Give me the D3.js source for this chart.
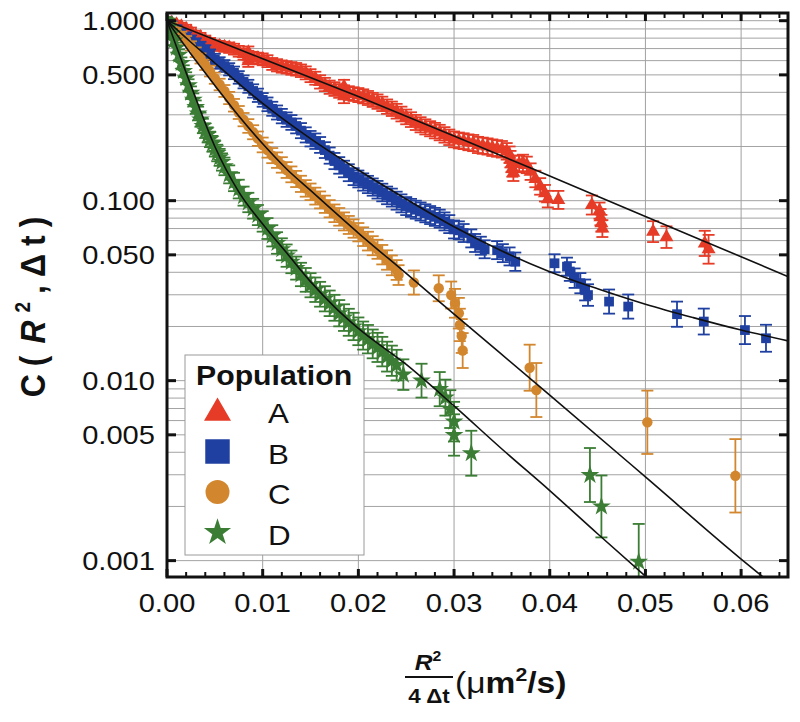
<!DOCTYPE html>
<html><head><meta charset="utf-8">
<script src="https://cdn.jsdelivr.net/npm/d3@7/dist/d3.min.js"></script>
<style>body{margin:0;background:#fff}text{font-family:"Liberation Sans",Arial,Helvetica,sans-serif}</style>
</head><body><svg id="chart" width="800" height="722"></svg>
<script>
// ---------- data ----------
const populations = ["A", "B", "C", "D"];
const colors = ["#e63b26", "#1f40a0", "#d2872f", "#3b7d34"];
const xTicks = [0, 0.01, 0.02, 0.03, 0.04, 0.05, 0.06];
const xTickLabels = ["0.00", "0.01", "0.02", "0.03", "0.04", "0.05", "0.06"];
const yTicks = [1, 0.5, 0.1, 0.05, 0.01, 0.005, 0.001];
const yTickLabels = ["1.000", "0.500", "0.100", "0.050", "0.010", "0.005", "0.001"];

// [R^2/(4Δt), C, log10 half-width of error bar]
const dataA = [[0,1,0.015],[0.0005,0.977,0.018],[0.001,0.955,0.02],[0.0015,0.929,0.02],[0.002,0.902,0.022],[0.0025,0.871,0.022],[0.003,0.832,0.024],[0.0035,0.81,0.024],[0.004,0.78,0.025],[0.0045,0.755,0.026],[0.005,0.733,0.027],[0.0055,0.724,0.028],[0.006,0.716,0.028],[0.0065,0.708,0.029],[0.007,0.695,0.03],[0.0075,0.676,0.03],[0.008,0.653,0.031],[0.0085,0.668,0.032],[0.0085,0.631,0.032],[0.0085,0.596,0.032],[0.009,0.624,0.032],[0.0095,0.617,0.032],[0.01,0.61,0.033],[0.0105,0.596,0.033],[0.011,0.575,0.033],[0.0115,0.565,0.034],[0.012,0.556,0.034],[0.0125,0.55,0.034],[0.013,0.543,0.035],[0.0135,0.537,0.035],[0.014,0.527,0.035],[0.0145,0.513,0.036],[0.015,0.495,0.036],[0.0155,0.479,0.036],[0.016,0.457,0.037],[0.0165,0.442,0.037],[0.017,0.427,0.037],[0.0175,0.417,0.038],[0.018,0.407,0.038],[0.0185,0.43,0.038],[0.0185,0.401,0.038],[0.0185,0.38,0.038],[0.019,0.396,0.038],[0.0195,0.391,0.038],[0.02,0.386,0.039],[0.0205,0.38,0.039],[0.021,0.372,0.039],[0.0215,0.363,0.039],[0.022,0.355,0.04],[0.0225,0.345,0.04],[0.023,0.333,0.04],[0.0235,0.324,0.04],[0.024,0.314,0.041],[0.0245,0.303,0.041],[0.025,0.292,0.041],[0.0255,0.282,0.041],[0.026,0.272,0.042],[0.0265,0.264,0.042],[0.027,0.257,0.042],[0.0275,0.251,0.042],[0.028,0.245,0.043],[0.0285,0.239,0.043],[0.029,0.232,0.043],[0.0295,0.225,0.043],[0.03,0.219,0.044],[0.0305,0.216,0.044],[0.031,0.214,0.044],[0.0315,0.211,0.044],[0.032,0.209,0.045],[0.0325,0.204,0.045],[0.033,0.202,0.045],[0.0335,0.2,0.045],[0.034,0.197,0.046],[0.0345,0.195,0.046],[0.035,0.193,0.046],[0.0355,0.188,0.046],[0.0358,0.18,0.046],[0.0359,0.17,0.046],[0.036,0.16,0.046],[0.0361,0.151,0.046],[0.0362,0.143,0.046],[0.0368,0.16,0.046],[0.0372,0.162,0.046],[0.0376,0.158,0.046],[0.038,0.145,0.046],[0.0385,0.132,0.046],[0.039,0.12,0.046],[0.0395,0.11,0.046],[0.0398,0.102,0.046],[0.0409,0.101,0.05],[0.0444,0.0946,0.053],[0.0452,0.088,0.045],[0.0453,0.081,0.045],[0.0454,0.075,0.046],[0.0455,0.07,0.047],[0.0508,0.0673,0.058],[0.0522,0.0627,0.06],[0.0562,0.0579,0.07],[0.0566,0.0537,0.08]];

const dataB = [[0,1,0.018],[0.0005,0.944,0.02],[0.001,0.895,0.022],[0.0015,0.851,0.024],[0.002,0.813,0.025],[0.0025,0.78,0.026],[0.003,0.75,0.027],[0.0035,0.716,0.028],[0.004,0.684,0.029],[0.0045,0.646,0.03],[0.005,0.61,0.031],[0.0055,0.582,0.032],[0.006,0.56,0.033],[0.0065,0.537,0.034],[0.007,0.513,0.035],[0.0075,0.484,0.035],[0.008,0.457,0.036],[0.0085,0.432,0.036],[0.009,0.407,0.037],[0.0095,0.385,0.037],[0.01,0.363,0.038],[0.0105,0.343,0.038],[0.011,0.324,0.039],[0.0115,0.309,0.039],[0.012,0.295,0.04],[0.0125,0.282,0.04],[0.013,0.272,0.041],[0.0135,0.26,0.041],[0.014,0.245,0.042],[0.0145,0.232,0.042],[0.015,0.221,0.043],[0.0155,0.214,0.043],[0.016,0.204,0.044],[0.0165,0.191,0.044],[0.017,0.178,0.045],[0.0175,0.166,0.045],[0.018,0.157,0.046],[0.0185,0.15,0.046],[0.019,0.143,0.047],[0.0195,0.136,0.047],[0.02,0.132,0.047],[0.0205,0.127,0.048],[0.021,0.123,0.048],[0.0215,0.119,0.048],[0.022,0.115,0.049],[0.0225,0.111,0.049],[0.023,0.107,0.049],[0.0235,0.104,0.05],[0.024,0.1,0.05],[0.0245,0.0966,0.05],[0.025,0.0933,0.05],[0.0255,0.0912,0.05],[0.026,0.0891,0.05],[0.0265,0.0871,0.05],[0.027,0.0851,0.05],[0.0275,0.0832,0.05],[0.028,0.0813,0.05],[0.0285,0.0794,0.05],[0.029,0.0767,0.05],[0.0295,0.0741,0.05],[0.03,0.0692,0.05],[0.0305,0.0684,0.05],[0.031,0.0661,0.05],[0.0318,0.0617,0.05],[0.0322,0.0582,0.05],[0.0328,0.0562,0.05],[0.0332,0.0537,0.05],[0.0345,0.0531,0.05],[0.0351,0.0511,0.05],[0.0358,0.049,0.05],[0.0364,0.0458,0.051],[0.0405,0.0449,0.05],[0.0418,0.043,0.05],[0.0421,0.0404,0.052],[0.0426,0.0371,0.054],[0.0432,0.0348,0.056],[0.0437,0.0319,0.058],[0.044,0.0299,0.06],[0.0462,0.0275,0.067],[0.0482,0.0258,0.067],[0.0533,0.0234,0.07],[0.0561,0.0213,0.072],[0.0604,0.0191,0.078],[0.0626,0.0172,0.075]];

const dataC = [[0,1,0.018],[0.0005,0.933,0.02],[0.001,0.871,0.022],[0.0015,0.822,0.024],[0.002,0.776,0.025],[0.0025,0.724,0.026],[0.003,0.668,0.027],[0.0035,0.617,0.028],[0.004,0.569,0.029],[0.0045,0.525,0.03],[0.005,0.479,0.031],[0.0055,0.442,0.032],[0.006,0.407,0.033],[0.0065,0.372,0.034],[0.007,0.339,0.035],[0.0075,0.309,0.036],[0.008,0.282,0.037],[0.0085,0.26,0.038],[0.009,0.24,0.039],[0.0095,0.221,0.04],[0.01,0.204,0.041],[0.0105,0.191,0.042],[0.011,0.178,0.042],[0.0115,0.168,0.043],[0.012,0.158,0.043],[0.0125,0.148,0.044],[0.013,0.14,0.044],[0.0135,0.132,0.045],[0.014,0.124,0.045],[0.0145,0.117,0.046],[0.015,0.112,0.046],[0.0155,0.106,0.047],[0.016,0.101,0.047],[0.0165,0.0955,0.048],[0.017,0.0902,0.048],[0.0175,0.0851,0.049],[0.018,0.0813,0.049],[0.0185,0.0767,0.05],[0.019,0.0733,0.05],[0.0195,0.07,0.051],[0.02,0.0668,0.051],[0.0205,0.0631,0.052],[0.021,0.0596,0.052],[0.0215,0.0562,0.053],[0.022,0.0537,0.053],[0.0225,0.0501,0.054],[0.023,0.0468,0.054],[0.0235,0.0437,0.055],[0.024,0.0412,0.055],[0.0242,0.0386,0.055],[0.0258,0.0351,0.067],[0.0284,0.0326,0.072],[0.0297,0.0299,0.075],[0.0301,0.0269,0.08],[0.0305,0.0237,0.085],[0.0306,0.0204,0.09],[0.0308,0.0177,0.094],[0.0309,0.0147,0.097],[0.0379,0.0118,0.128],[0.0386,0.00887,0.15],[0.0502,0.00587,0.176],[0.0594,0.00296,0.204]];

const dataD = [[0,1,0.02],[0.00025,0.923,0.022],[0.0005,0.851,0.024],[0.00075,0.776,0.026],[0.001,0.708,0.028],[0.00125,0.646,0.03],[0.0015,0.582,0.031],[0.00175,0.525,0.032],[0.002,0.479,0.033],[0.00225,0.437,0.034],[0.0025,0.398,0.035],[0.00275,0.363,0.036],[0.003,0.331,0.037],[0.00325,0.305,0.038],[0.0035,0.282,0.039],[0.00375,0.26,0.04],[0.004,0.245,0.041],[0.00425,0.232,0.042],[0.0045,0.219,0.043],[0.00475,0.207,0.044],[0.005,0.195,0.045],[0.00525,0.184,0.046],[0.0055,0.174,0.047],[0.00575,0.164,0.048],[0.006,0.155,0.049],[0.0065,0.14,0.05],[0.007,0.127,0.051],[0.0075,0.116,0.052],[0.008,0.106,0.053],[0.0085,0.0977,0.054],[0.009,0.0902,0.055],[0.0095,0.0832,0.056],[0.01,0.0767,0.057],[0.0105,0.07,0.058],[0.011,0.0638,0.059],[0.0115,0.0582,0.06],[0.012,0.0537,0.061],[0.0125,0.0495,0.062],[0.013,0.0457,0.063],[0.0135,0.0422,0.064],[0.014,0.0389,0.065],[0.0145,0.0363,0.066],[0.015,0.0339,0.067],[0.0155,0.032,0.068],[0.016,0.0302,0.069],[0.0165,0.0285,0.07],[0.017,0.0269,0.071],[0.0175,0.0254,0.072],[0.018,0.0237,0.073],[0.0185,0.0224,0.074],[0.019,0.0211,0.075],[0.0195,0.02,0.076],[0.02,0.0188,0.077],[0.0205,0.0178,0.078],[0.021,0.017,0.079],[0.0215,0.016,0.08],[0.022,0.0153,0.081],[0.0225,0.0145,0.082],[0.023,0.0136,0.083],[0.0235,0.0129,0.084],[0.024,0.0122,0.085],[0.0247,0.0108,0.085],[0.0266,0.01,0.094],[0.0285,0.00897,0.095],[0.0291,0.00805,0.1],[0.0296,0.00695,0.105],[0.03,0.00592,0.11],[0.03,0.00499,0.115],[0.0318,0.00395,0.125],[0.0442,0.00299,0.15],[0.0454,0.002,0.172],[0.0493,0.000986,0.21]];

// fitted curves [x, C]
const fitA = [[0,1],[0.01,0.615],[0.02,0.379],[0.03,0.229],[0.04,0.137],[0.05,0.0817],[0.06,0.0488],[0.065,0.0377]];
const fitB = [[0,1],[0.0025,0.759],[0.005,0.582],[0.0075,0.447],[0.01,0.347],[0.015,0.221],[0.02,0.148],[0.025,0.102],[0.03,0.0716],[0.035,0.0525],[0.04,0.0403],[0.045,0.0324],[0.05,0.0266],[0.055,0.0224],[0.06,0.0191],[0.065,0.0166]];
const fitC = [[0,1],[0.0025,0.653],[0.005,0.437],[0.0075,0.295],[0.01,0.207],[0.0125,0.150],[0.015,0.114],[0.02,0.0661],[0.025,0.0394],[0.03,0.0234],[0.04,0.00832],[0.05,0.00292],[0.06,0.00102],[0.0625,0.000794]];
const fitD = [[0,1],[0.0025,0.437],[0.005,0.200],[0.0075,0.112],[0.01,0.0741],[0.0125,0.0513],[0.015,0.0355],[0.0175,0.0257],[0.02,0.0195],[0.025,0.0123],[0.03,0.00724],[0.035,0.00417],[0.04,0.00245],[0.045,0.00141],[0.0505,0.000776]];

const allData = [dataA, dataB, dataC, dataD];
const allFits = [fitA, fitB, fitC, fitD];

// ---------- layout ----------
const SX = 1.12; // horizontal stretch of the lettering
const plot = {left: 167, right: 788, top: 13, bottom: 577};
const svg = d3.select("#chart");
const x = d3.scaleLinear().domain([0, 0.0649]).range([plot.left, plot.right]);
const y = d3.scaleLog().domain([0.000811, 1.1035]).range([plot.bottom, plot.top]);

svg.append("defs").append("clipPath").attr("id", "clip")
  .append("rect").attr("x", plot.left).attr("y", plot.top)
  .attr("width", plot.right - plot.left).attr("height", plot.bottom - plot.top);

// grid
const grid = svg.append("g");
const yGrid = y.ticks().filter(v => v >= 0.001 - 1e-9 && v <= 1 + 1e-9);
grid.selectAll("line.h").data(yGrid).join("line")
  .attr("x1", plot.left).attr("x2", plot.right)
  .attr("y1", d => y(d)).attr("y2", d => y(d))
  .attr("stroke", "#a3a3a3").attr("stroke-width", 1);
grid.selectAll("line.v").data(xTicks.slice(1)).join("line")
  .attr("x1", d => x(d)).attr("x2", d => x(d))
  .attr("y1", plot.top).attr("y2", plot.bottom)
  .attr("stroke", "#a0a0a0").attr("stroke-width", 1);

// data
const shapes = [d3.symbolTriangle, d3.symbolSquare, d3.symbolCircle, d3.symbolStar];
const sizes = [85, 95, 85, 110];
const body = svg.append("g").attr("clip-path", "url(#clip)");
allData.forEach((data, i) => {
  const g = body.append("g");
  const col = colors[i];
  const eb = g.selectAll("g.eb").data(data).join("g");
  eb.append("line")
    .attr("x1", d => x(d[0])).attr("x2", d => x(d[0]))
    .attr("y1", d => y(d[1] * Math.pow(10, d[2]))).attr("y2", d => y(d[1] / Math.pow(10, d[2])))
    .attr("stroke", col).attr("stroke-width", 1.8);
  [1, -1].forEach(s => {
    eb.append("line")
      .attr("x1", d => x(d[0]) - 6).attr("x2", d => x(d[0]) + 6)
      .attr("y1", d => y(d[1] * Math.pow(10, s * d[2]))).attr("y2", d => y(d[1] * Math.pow(10, s * d[2])))
      .attr("stroke", col).attr("stroke-width", 1.8);
  });
  g.selectAll("path.m").data(data).join("path")
    .attr("d", d3.symbol().type(shapes[i]).size(sizes[i]))
    .attr("transform", d => `translate(${x(d[0])},${y(d[1])})`)
    .attr("fill", col);
});

// fits
const line = d3.line().x(d => x(d[0])).y(d => y(d[1])).curve(d3.curveMonotoneX);
allFits.forEach(f => {
  body.append("path").attr("d", line(f)).attr("fill", "none")
    .attr("stroke", "#111").attr("stroke-width", 1.6);
});

// ticks
const tk = svg.append("g").attr("stroke", "#111");
const minorX = d3.range(0, 0.0649, 0.002).filter(v => Math.abs(v / 0.01 - Math.round(v / 0.01)) > 1e-6);
minorX.forEach(v => {
  tk.append("line").attr("x1", x(v)).attr("x2", x(v)).attr("y1", plot.bottom).attr("y2", plot.bottom - 5).attr("stroke-width", 2);
  tk.append("line").attr("x1", x(v)).attr("x2", x(v)).attr("y1", plot.top).attr("y2", plot.top + 5).attr("stroke-width", 2);
});
xTicks.forEach(v => {
  tk.append("line").attr("x1", x(v)).attr("x2", x(v)).attr("y1", plot.bottom).attr("y2", plot.bottom - 8).attr("stroke-width", 3);
  tk.append("line").attr("x1", x(v)).attr("x2", x(v)).attr("y1", plot.top).attr("y2", plot.top + 8).attr("stroke-width", 3);
});
yTicks.forEach(v => {
  tk.append("line").attr("x1", plot.left).attr("x2", plot.left + 9).attr("y1", y(v)).attr("y2", y(v)).attr("stroke-width", 3);
  tk.append("line").attr("x1", plot.right).attr("x2", plot.right - 9).attr("y1", y(v)).attr("y2", y(v)).attr("stroke-width", 3);
});

// frame
svg.append("rect").attr("x", plot.left).attr("y", plot.top)
  .attr("width", plot.right - plot.left).attr("height", plot.bottom - plot.top)
  .attr("fill", "none").attr("stroke", "#111").attr("stroke-width", 3);

// tick labels
function label(px, py, str, anchor, size, weight) {
  return svg.append("text")
    .attr("transform", `translate(${px},${py}) scale(${SX},1)`)
    .attr("text-anchor", anchor).attr("font-size", size)
    .attr("font-weight", weight || "normal").attr("fill", "#111").text(str);
}
yTicks.forEach((v, i) => label(155, y(v) + 9.5, yTickLabels[i], "end", 26));
xTicks.forEach((v, i) => label(x(v), 612, xTickLabels[i], "middle", 26));

// y title
const yt = svg.append("text")
  .attr("transform", `translate(45,303) rotate(-90) scale(1,${SX})`)
  .attr("text-anchor", "middle").attr("font-size", 32).attr("font-weight", "bold")
  .attr("letter-spacing", 8).attr("fill", "#111");
yt.append("tspan").text("C(");
yt.append("tspan").attr("font-style", "italic").attr("dx", 4).text("R");
yt.append("tspan").attr("font-size", 19).attr("dy", -13).text("2");
yt.append("tspan").attr("dy", 13).text(",Δt)");

// x title
const xt = svg.append("g");
const num = xt.append("text").attr("transform", `translate(428,670) scale(${SX},1)`)
  .attr("text-anchor", "middle").attr("font-size", 22).attr("font-weight", "bold").attr("fill", "#111");
num.append("tspan").attr("font-style", "italic").text("R");
num.append("tspan").attr("font-size", 14).attr("dy", -9).text("2");
xt.append("line").attr("x1", 405).attr("x2", 453).attr("y1", 677).attr("y2", 677)
  .attr("stroke", "#111").attr("stroke-width", 2);
xt.append("text").attr("transform", `translate(429,703) scale(${SX},1)`)
  .attr("text-anchor", "middle").attr("font-size", 20).attr("font-weight", "bold").attr("fill", "#111").text("4 Δt");
const unit = xt.append("text").attr("transform", `translate(455,693) scale(${SX},1)`)
  .attr("font-size", 30).attr("fill", "#111");
unit.append("tspan").text("(μ");
unit.append("tspan").attr("font-weight", "bold").text("m");
unit.append("tspan").attr("font-weight", "bold").attr("font-size", 19).attr("dy", -12).text("2");
unit.append("tspan").attr("font-weight", "bold").attr("dy", 12).text("/s)");

// legend
const lg = svg.append("g");
lg.append("rect").attr("x", 185).attr("y", 355).attr("width", 179).attr("height", 200)
  .attr("fill", "#fff").attr("stroke", "#9a9a9a").attr("stroke-width", 1);
lg.append("text").attr("transform", `translate(196,385) scale(${SX},1)`)
  .attr("font-size", 27).attr("font-weight", "bold").attr("fill", "#111").text("Population");
const legSizes = [316, 600, 452, 230];
populations.forEach((p, i) => {
  const cy = 411 + i * 40.5;
  lg.append("path").attr("d", d3.symbol().type(shapes[i]).size(legSizes[i]))
    .attr("transform", `translate(217.5,${cy + (i === 0 ? 2 : 0)})`).attr("fill", colors[i]);
  lg.append("text").attr("transform", `translate(268,${cy + 12}) scale(${SX},1)`)
    .attr("font-size", 28).attr("fill", "#111").text(p);
});
</script>
</body></html>
